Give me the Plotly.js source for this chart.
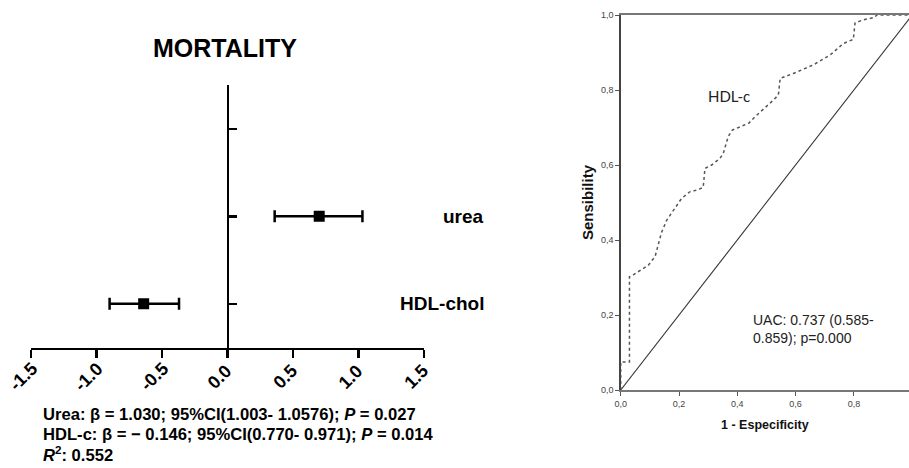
<!DOCTYPE html>
<html>
<head>
<meta charset="utf-8">
<script src="https://cdn.plot.ly/plotly-3.0.1.min.js"></script>
<style>html,body{margin:0;padding:0;background:#fff;}#chart{width:909px;height:468px;}</style>
</head>
<body>
<div id="chart"></div>
<script>
// ---- Forest plot data (MORTALITY) ----
var forestLabels = ['HDL-chol', 'urea'];
var forestRows = [0, 1];
var forestEst = [-0.64, 0.70];
var forestLow = [-0.90, 0.36];
var forestHigh = [-0.37, 1.03];
var forestTickVals = [-1.5, -1.0, -0.5, 0.0, 0.5, 1.0, 1.5];
var forestTickText = ['-1.5', '-1.0', '-0.5', '0.0', '0.5', '1.0', '1.5'];
var forestRowTicks = [0, 1, 2];
var footLines = [
  'Urea: β = 1.030; 95%CI(1.003- 1.0576); <i>P</i> = 0.027',
  'HDL-c: β = − 0.146; 95%CI(0.770- 0.971); <i>P</i> = 0.014',
  '<i>R</i><sup>2</sup>: 0.552'
];

// ---- ROC data (HDL-c) ----
var rocFPR = [0, 0, 0.03, 0.03, 0.043, 0.066, 0.095, 0.118, 0.129, 0.14,
  0.158, 0.181, 0.209, 0.238, 0.261, 0.283, 0.289, 0.312, 0.341, 0.352,
  0.361, 0.369, 0.383, 0.409, 0.44, 0.461, 0.485, 0.524, 0.541, 0.547,
  0.592, 0.661, 0.718, 0.764, 0.798, 0.804, 0.832, 0.872, 0.878, 1.0];
var rocTPR = [0, 0.075, 0.075, 0.302, 0.307, 0.318, 0.333, 0.356, 0.387, 0.42,
  0.453, 0.48, 0.511, 0.529, 0.533, 0.54, 0.591, 0.6, 0.618, 0.631,
  0.653, 0.676, 0.693, 0.702, 0.712, 0.729, 0.745, 0.773, 0.787, 0.831,
  0.844, 0.867, 0.893, 0.924, 0.935, 0.979, 0.987, 0.994, 1.0, 1.0];
var refLineX = [0, 1];
var refLineY = [0, 1];
var rocTickVals = [0, 0.2, 0.4, 0.6, 0.8, 1.0];
var rocTickText = ['0,0', '0,2', '0,4', '0,6', '0,8', '1,0'];

var W = 909, H = 468;
function px(x) { return x / W; }
function py(y) { return 1 - y / H; }

var bold = {family: 'Liberation Sans, Arial, sans-serif', color: '#000', weight: 'bold'};
var sans = 'Liberation Sans, Arial, sans-serif';

var traces = [
  {
    type: 'scatter', mode: 'markers', xaxis: 'x', yaxis: 'y',
    x: forestEst, y: forestRows,
    marker: {symbol: 'square', size: 11, color: '#000'},
    error_x: {
      type: 'data', symmetric: false,
      array: forestHigh.map(function (h, i) { return h - forestEst[i]; }),
      arrayminus: forestLow.map(function (l, i) { return forestEst[i] - l; }),
      color: '#000', thickness: 2.5, width: 6
    },
    hoverinfo: 'skip'
  },
  {
    type: 'scatter', mode: 'lines', xaxis: 'x2', yaxis: 'y2',
    x: refLineX, y: refLineY,
    line: {color: '#333', width: 1.1}, hoverinfo: 'skip'
  },
  {
    type: 'scatter', mode: 'lines', xaxis: 'x2', yaxis: 'y2',
    x: rocFPR, y: rocTPR,
    line: {color: '#555', width: 1.5, dash: '3px,3px'}, hoverinfo: 'skip'
  }
];

var annotations = [];
// rotated tick labels of the forest plot x axis
forestTickVals.forEach(function (v, i) {
  annotations.push({
    text: forestTickText[i], xref: 'x', yref: 'paper', x: v, y: py(377),
    xanchor: 'center', yanchor: 'middle', xshift: -8, textangle: -45,
    showarrow: false, font: Object.assign({}, bold, {size: 18})
  });
});
forestLabels.forEach(function (lab, i) {
  annotations.push({
    text: lab, xref: 'paper', yref: 'y', x: px(486), y: forestRows[i],
    xanchor: 'right', yanchor: 'middle', showarrow: false,
    font: Object.assign({}, bold, {size: 19})
  });
});
var footY = [414, 434.5, 454];
footLines.forEach(function (t, i) {
  annotations.push({
    text: t, xref: 'paper', yref: 'paper', x: px(41), y: py(footY[i]),
    xanchor: 'left', yanchor: 'middle', align: 'left', showarrow: false,
    font: Object.assign({}, bold, {size: 16.6})
  });
});
annotations.push({
  text: 'HDL-c', xref: 'x2', yref: 'y2', x: 0.372, y: 0.784,
  xanchor: 'center', yanchor: 'middle', showarrow: false,
  font: {family: 'Lato, Open Sans, sans-serif', size: 15, color: '#222'}
});
annotations.push({
  text: 'UAC: 0.737 (0.585-<br>0.859); p=0.000', xref: 'x2', yref: 'y2', x: 0.448, y: 0.164,
  xanchor: 'left', yanchor: 'middle', align: 'left', showarrow: false,
  font: {family: sans, size: 14, color: '#222'}
});

var layout = {
  width: W, height: H,
  margin: {l: 0, r: 0, t: 0, b: 0, pad: 0},
  paper_bgcolor: '#fff', plot_bgcolor: 'rgba(0,0,0,0)',
  showlegend: false,
  title: {
    text: 'MORTALITY', xref: 'paper', yref: 'paper', x: px(225), y: py(48),
    xanchor: 'center', yanchor: 'middle',
    font: Object.assign({}, bold, {size: 25})
  },
  xaxis: {
    domain: [px(31), px(424)], range: [-1.5, 1.5], anchor: 'y',
    showgrid: false, zeroline: false,
    showline: true, linecolor: '#000', linewidth: 2.5,
    ticks: 'outside', ticklen: 8, tickwidth: 2.5, tickcolor: '#000',
    tickmode: 'array', tickvals: forestTickVals, showticklabels: false,
    fixedrange: true
  },
  yaxis: {
    domain: [py(347.5), py(85)], range: [-0.5, 2.5],
    anchor: 'free', position: (px(31) + px(424)) / 2,
    showgrid: false, zeroline: false,
    showline: true, linecolor: '#000', linewidth: 2.5,
    ticks: 'inside', ticklen: 8, tickwidth: 2.5, tickcolor: '#000',
    tickmode: 'array', tickvals: forestRowTicks, showticklabels: false,
    fixedrange: true
  },
  xaxis2: {
    domain: [px(620.7), 1], range: [0, (W - 620.7) / 291.5], anchor: 'y2',
    showgrid: false, zeroline: false,
    showline: true, linecolor: '#777', linewidth: 2, mirror: true,
    ticks: 'outside', ticklen: 4, tickwidth: 1, tickcolor: '#555',
    tickmode: 'array', tickvals: rocTickVals, ticktext: rocTickText,
    tickfont: {family: sans, size: 9, color: '#444'},
    title: {text: '1 - Especificity', standoff: 12,
      font: {family: sans, size: 12.5, color: '#111', weight: 'bold'}},
    fixedrange: true
  },
  yaxis2: {
    domain: [py(390), py(15)], range: [0, 1], anchor: 'x2',
    showgrid: false, zeroline: false,
    showline: true, linecolor: '#444', linewidth: 1.5,
    ticks: 'outside', ticklen: 4, tickwidth: 1, tickcolor: '#555',
    tickmode: 'array', tickvals: rocTickVals, ticktext: rocTickText,
    tickfont: {family: sans, size: 9, color: '#444'},
    title: {text: 'Sensibility', standoff: 3,
      font: {family: sans, size: 15, color: '#111', weight: 'bold'}},
    fixedrange: true
  },
  annotations: annotations
};

Plotly.newPlot('chart', traces, layout, {staticPlot: true, displayModeBar: false});
</script>
</body>
</html>
